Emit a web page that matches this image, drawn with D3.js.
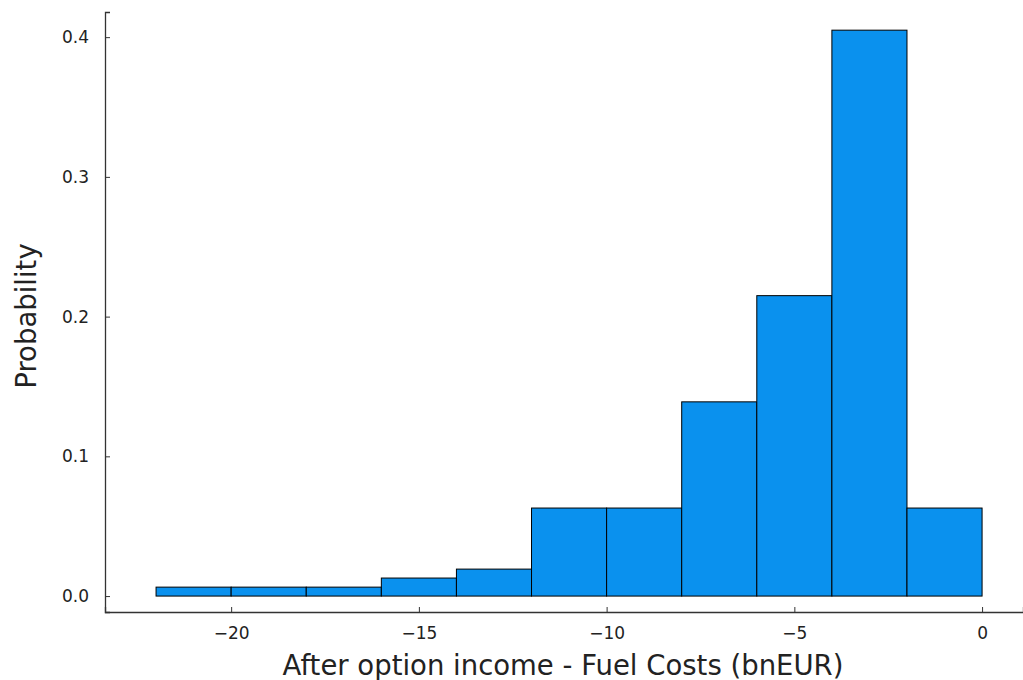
<!DOCTYPE html>
<html><head><meta charset="utf-8">
<script src="https://cdn.jsdelivr.net/npm/d3@7"></script>
<style>body{margin:0;background:#fff;} svg{display:block;}</style>
</head><body>
<svg id="c" width="1023" height="680"></svg>
<script>
const binStarts = [-22, -20, -18, -16, -14, -12, -10, -8, -6, -4, -2];
const binWidth = 2;
const probabilities = [0.0064, 0.0064, 0.0064, 0.0129, 0.0193, 0.063, 0.063, 0.139, 0.215, 0.405, 0.063];
const xTicks = [-20, -15, -10, -5, 0];
const yTicks = [0.0, 0.1, 0.2, 0.3, 0.4];
const xLabel = "After option income - Fuel Costs (bnEUR)";
const yLabel = "Probability";

const svg = d3.select("#c");
const L = 105, R = 1023, T = 12, B = 612;
const x = d3.scaleLinear().domain([-23.36, 1.09]).range([L, R]);
const y = d3.scaleLinear().domain([-0.0114, 0.418]).range([B, T]);

svg.append("g").selectAll("rect").data(binStarts).join("rect")
  .attr("x", d => x(d))
  .attr("width", d => x(d + binWidth) - x(d))
  .attr("y", (d, i) => y(probabilities[i]))
  .attr("height", (d, i) => y(0) - y(probabilities[i]))
  .attr("fill", "#0a91ee")
  .attr("stroke", "#000")
  .attr("stroke-width", 1);

const font = "'DejaVu Sans', sans-serif";
const gx = svg.append("g").attr("transform", `translate(0,${B})`)
  .call(d3.axisBottom(x).tickValues(xTicks).tickSize(-5).tickPadding(15)
    .tickFormat(d => d < 0 ? "\u2212" + Math.abs(d) : String(d)));
gx.select(".domain").attr("stroke", "#333").attr("stroke-width", 1.3);
gx.selectAll(".tick line").attr("stroke", "#333");
gx.selectAll("text").attr("font-family", font).attr("font-size", 17).attr("fill", "#222");

const gy = svg.append("g").attr("transform", `translate(${L},0)`)
  .call(d3.axisLeft(y).tickValues(yTicks).tickSize(-5).tickPadding(16)
    .tickFormat(d3.format(".1f")));
gy.select(".domain").attr("stroke", "#333").attr("stroke-width", 1.3);
gy.selectAll(".tick line").attr("stroke", "#333");
gy.selectAll("text").attr("font-family", font).attr("font-size", 17).attr("fill", "#222");

svg.append("text").attr("x", 563).attr("y", 675)
  .attr("text-anchor", "middle").attr("font-family", font).attr("font-size", 27.5).attr("fill", "#222")
  .text(xLabel);
svg.append("text").attr("transform", `translate(36,316) rotate(-90)`)
  .attr("text-anchor", "middle").attr("font-family", font).attr("font-size", 27.5).attr("fill", "#222")
  .text(yLabel);
</script>
</body></html>
